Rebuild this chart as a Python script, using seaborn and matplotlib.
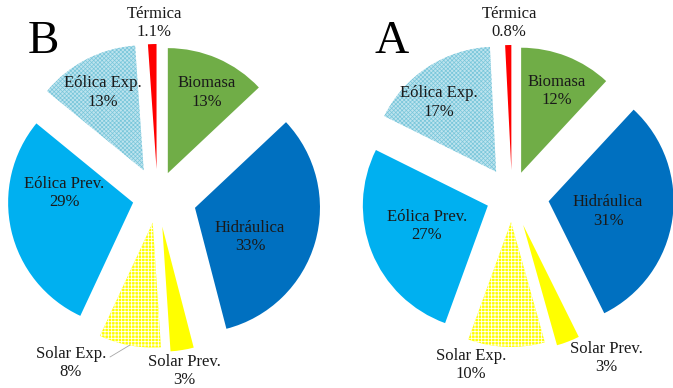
import matplotlib
matplotlib.use("Agg")
import matplotlib.pyplot as plt
import seaborn as sns

# --- data -------------------------------------------------------------
categories = ["Biomasa", "Hidráulica", "Solar Prev.", "Solar Exp.",
              "Eólica Prev.", "Eólica Exp.", "Térmica"]
share_B = [13, 33, 3, 8, 29, 13, 1.1]
share_A = [12, 31, 3, 10, 27, 17, 0.8]
panel_names = ["B", "A"]

# --- styling ----------------------------------------------------------
sns.set_theme(style="white")
plt.rcParams["font.family"] = ["Liberation Serif", "DejaVu Serif"]
plt.rcParams["hatch.linewidth"] = 0.55

face_colors = ["#70AD47", "#0070C0", "#FFFF00", "#FFFF00",
               "#00B0F0", "#BDE3EE", "#FF0000"]
hatch_styles = [None, None, None, "+++++", None, "xxxxxxxx", None]
hatch_colors = [None, None, None, "#FFFFFF", None, "#78C6DA", None]
hatch_widths = [None, None, None, 0.6, None, 0.5, None]

W, H = 673, 388          # canvas in pixels; data units == pixels
R = 125                  # pie radius

layout = {
    "B": dict(center=(157.5, 197), explode=[26, 39, 30, 26, 25, 30, 28],
              labels=[(207, 92.5), (250, 237), (184, 371), (71, 363),
                      (64, 193), (103, 92.5), (154, 23)],
              title=(43.5, 53)),
    "A": dict(center=(512, 196), explode=[25, 37, 31, 26, 26, 29, 26],
              labels=[(557, 91), (608, 211.5), (606, 358), (471, 365),
                      (427, 226), (439, 102.5), (509, 23)],
              title=(392, 53)),
}

fig = plt.figure(figsize=(W / 100, H / 100), dpi=100)
ax = fig.add_axes([0, 0, 1, 1])


def pct(v):
    return f"{v:g}%"


for name, shares in zip(panel_names, [share_B, share_A]):
    cfg = layout[name]
    cx, cy = cfg["center"]
    wedges, _ = ax.pie(shares, explode=cfg["explode"], colors=face_colors,
                       startangle=90, counterclock=False,
                       center=(cx, H - cy), radius=R,
                       wedgeprops=dict(linewidth=0))
    for w, h, hc, hw in zip(wedges, hatch_styles, hatch_colors, hatch_widths):
        if h:
            w.set_hatch(h)
            w.set_edgecolor(hc)
            w.set_linewidth(0)
            if hasattr(w, "set_hatch_linewidth"):
                w.set_hatch_linewidth(hw)
    for cat, v, (lx, ly) in zip(categories, shares, cfg["labels"]):
        ax.text(lx, H - ly, f"{cat}\n{pct(v)}", ha="center", va="center",
                fontsize=12, color="#1a1a1a", linespacing=1.2)
    tx, ty = cfg["title"]
    ax.text(tx, H - ty, name, ha="center", va="baseline", fontsize=34,
            color="black")

# leader line for the small Solar Exp. label in panel B
ax.plot([110, 130], [H - 357, H - 345], color="#A6A6A6", lw=0.6)

ax.set_xlim(0, W)
ax.set_ylim(0, H)
ax.set_aspect("equal")
ax.axis("off")

fig.savefig("out.png", dpi=100, facecolor="white")
